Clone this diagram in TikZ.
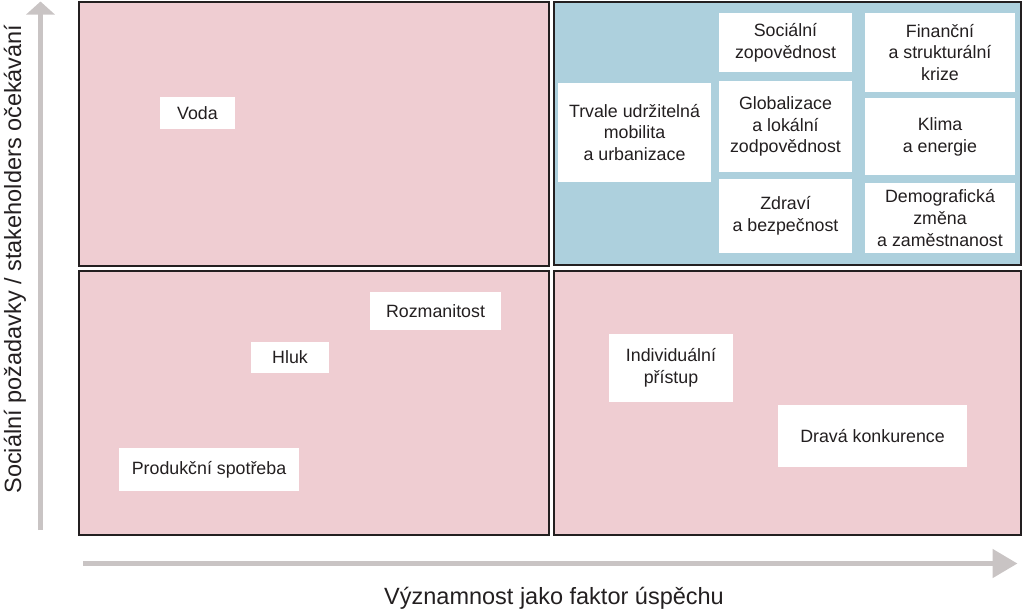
\documentclass[tikz,border=0pt]{standalone}
\usepackage{fontspec}
\setmainfont{Liberation Sans}
\usetikzlibrary{arrows.meta}
\definecolor{quadpink}{HTML}{EFCDD2}
\definecolor{quadblue}{HTML}{ADD0DD}
\definecolor{axisgrey}{HTML}{C9C4C4}
\definecolor{edgedark}{HTML}{231F20}
\definecolor{textdark}{HTML}{231F20}
\tikzset{
  quad/.style={draw=edgedark, line width=1.6pt, inner sep=0pt, anchor=north west},
  itembox/.style={fill=white, inner sep=0pt, align=center, text=textdark,
    font=\fontsize{17.8}{21.8}\selectfont},
  axisline/.style={draw=axisgrey, line width=5pt},
  axislabel/.style={text=textdark, font=\fontsize{23.5}{28}\selectfont, inner sep=0pt}
}
\begin{document}
\begin{tikzpicture}[x=1pt,y=-1pt]
\useasboundingbox (0,0) rectangle (1024,614);
% quadrants
\node (tl) [quad, fill=quadpink, minimum width=470pt, minimum height=264pt] at (78,1) {};
\node (tr) [quad, fill=quadblue, minimum width=467pt, minimum height=263pt] at (553,1) {};
\node (bl) [quad, fill=quadpink, minimum width=470pt, minimum height=264pt] at (78,270) {};
\node (br) [quad, fill=quadpink, minimum width=467pt, minimum height=264pt] at (553,270) {};
% top-left
\node (voda) [itembox, minimum width=75pt, minimum height=32pt] at (197.5,113) {Voda};
% bottom-left
\node (rozm) [itembox, minimum width=131pt, minimum height=38pt] at (435.5,311) {Rozmanitost};
\node (hluk) [itembox, minimum width=78pt, minimum height=31pt] at (290,357.5) {Hluk};
\node (prod) [itembox, minimum width=180pt, minimum height=43pt] at (209,469.5) {Produkční spotřeba};
% bottom-right
\node (indiv) [itembox, minimum width=124pt, minimum height=68pt] at (671,368) {Individuální\\přístup};
\node (drava) [itembox, minimum width=189pt, minimum height=62pt] at (872.5,436) {Dravá konkurence};
% top-right
\node (trvale) [itembox, minimum width=153pt, minimum height=99pt] at (634.5,132.5) {Trvale udržitelná\\mobilita\\a urbanizace};
\node (soc) [itembox, minimum width=133pt, minimum height=59pt] at (785.5,42.5) {Sociální\\zopovědnost};
\node (glob) [itembox, minimum width=133pt, minimum height=91pt] at (785.5,126.5) {Globalizace\\a lokální\\zodpovědnost};
\node (zdravi) [itembox, minimum width=133pt, minimum height=74pt] at (785.5,216) {Zdraví\\a bezpečnost};
\node (fin) [itembox, minimum width=150pt, minimum height=79pt] at (940,52.5) {Finanční\\a strukturální\\krize};
\node (klima) [itembox, minimum width=150pt, minimum height=77pt] at (940,136.5) {Klima\\a energie};
\node (demo) [itembox, minimum width=150pt, minimum height=70pt] at (940,218) {Demografická\\změna\\a zaměstnanost};
% axes
\coordinate (ystart) at (40.5,530);
\coordinate (yend) at (40.5,1.5);
\coordinate (xstart) at (83,563.5);
\coordinate (xend) at (1017.5,563.5);
\draw[axisline, -{Triangle[width=28pt,length=13pt,fill=axisgrey]}] (ystart) -- (yend);
\draw[axisline, -{Triangle[width=28pt,length=25pt,fill=axisgrey]}] (xstart) -- (xend);
\node (ylab) [axislabel, rotate=90] at (15,259) {Sociální požadavky / stakeholders očekávání};
\node (xlab) [axislabel] at (554,598) {Významnost jako faktor úspěchu};
\end{tikzpicture}
\end{document}
